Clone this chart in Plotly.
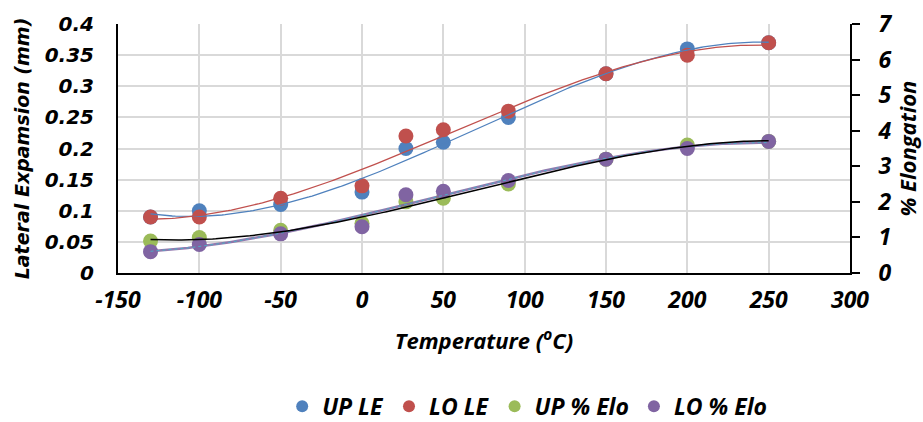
import numpy as np
import plotly.graph_objects as go

temps = [-130, -100, -50, 0, 27, 50, 90, 150, 200, 250]
up_le = [0.09, 0.10, 0.11, 0.13, 0.20, 0.21, 0.25, 0.32, 0.36, 0.37]
lo_le = [0.09, 0.09, 0.12, 0.14, 0.22, 0.23, 0.26, 0.32, 0.35, 0.37]
up_elo = [0.9, 1.0, 1.2, 1.4, 2.0, 2.1, 2.5, 3.2, 3.6, 3.7]
lo_elo = [0.6, 0.8, 1.1, 1.3, 2.2, 2.3, 2.6, 3.2, 3.5, 3.7]

x_tick_vals = [-150, -100, -50, 0, 50, 100, 150, 200, 250, 300]
x_tick_text = ["-150", "-100", "-50", "0", "50", "100", "150", "200", "250", "300"]

BLUE = "#4F81BD"
RED = "#C0504D"
GREEN = "#9BBB59"
PURPLE = "#8064A2"

fig = go.Figure()

def marker_trace(y, name, color, axis):
    return go.Scatter(x=temps, y=y, mode="markers", name=name, yaxis=axis,
                      marker=dict(color=color, size=15, line=dict(width=0)))

fig.add_trace(marker_trace(up_le, "UP LE", BLUE, "y"))
fig.add_trace(marker_trace(lo_le, "LO LE", RED, "y"))
fig.add_trace(marker_trace(up_elo, "UP % Elo", GREEN, "y2"))
fig.add_trace(marker_trace(lo_elo, "LO % Elo", PURPLE, "y2"))

xs = np.linspace(min(temps), max(temps), 200)

def trend(y):
    c = np.polyfit(temps, y, 3)
    return np.polyval(c, xs)

fig.add_trace(go.Scatter(x=xs, y=trend(up_le), mode="lines", showlegend=False,
                         line=dict(color=BLUE, width=1.3), hoverinfo="skip"))
fig.add_trace(go.Scatter(x=xs, y=trend(lo_le), mode="lines", showlegend=False,
                         line=dict(color=RED, width=1.3), hoverinfo="skip"))
fig.add_trace(go.Scatter(x=xs, y=trend(lo_elo), mode="lines", showlegend=False, yaxis="y2",
                         line=dict(color=PURPLE, width=2.6), opacity=0.85, hoverinfo="skip"))
fig.add_trace(go.Scatter(x=xs, y=trend(lo_elo), mode="lines", showlegend=False, yaxis="y2",
                         line=dict(color="#4bacc6", width=1, dash="dot"), hoverinfo="skip"))
fig.add_trace(go.Scatter(x=xs, y=trend(up_elo), mode="lines", showlegend=False, yaxis="y2",
                         line=dict(color="black", width=1.5), hoverinfo="skip"))

bi = dict(weight="bold", style="italic", color="black")
OS = "Open Sans"

fig.update_layout(
    width=923, height=422,
    margin=dict(l=118, r=73, t=24, b=149, autoexpand=False),
    paper_bgcolor="white", plot_bgcolor="white",
    showlegend=True,
    legend=dict(orientation="h", x=0.559, xanchor="center", y=-0.535, yanchor="middle",
                font=dict(family=OS, size=23, **bi), itemsizing="constant",
                tracegroupgap=0),
    xaxis=dict(range=[-150, 300], tickmode="array", tickvals=x_tick_vals, ticktext=x_tick_text,
               automargin=False,
               showgrid=True, gridcolor="#d9d9d9", gridwidth=1.5,
               showline=True, linecolor="black", linewidth=2,
               zeroline=False, ticks="", ticklabelstandoff=5,
               tickfont=dict(family=OS, size=23, **bi),
               title=dict(text="Temperature (<sup>o</sup>C)",
                          font=dict(family=OS, size=22, **bi), standoff=20)),
    yaxis=dict(range=[0, 0.4], dtick=0.05, tick0=0, automargin=False,
               showgrid=True, gridcolor="#d9d9d9", gridwidth=1.5,
               showline=True, linecolor="black", linewidth=2,
               zeroline=False, ticks="", ticklabelstandoff=18,
               tickfont=dict(family="DejaVu Sans", size=20, **bi),
               title=dict(text="Lateral Expamsion (mm)",
                          font=dict(family="DejaVu Sans", size=19, **bi), standoff=10)),
    yaxis2=dict(range=[0, 7], dtick=1, tick0=0, overlaying="y", side="right", automargin=False,
                showgrid=False, showline=True, linecolor="black", linewidth=2,
                zeroline=False, ticks="outside", ticklen=8, tickwidth=2, tickcolor="black",
                ticklabelstandoff=14,
                tickfont=dict(family=OS, size=23, **bi),
                title=dict(text="% Elongation",
                           font=dict(family=OS, size=22, **bi), standoff=5)),
)

fig.write_html("out.html", config={"displayModeBar": False},
               post_script="document.body.style.margin='0';")
